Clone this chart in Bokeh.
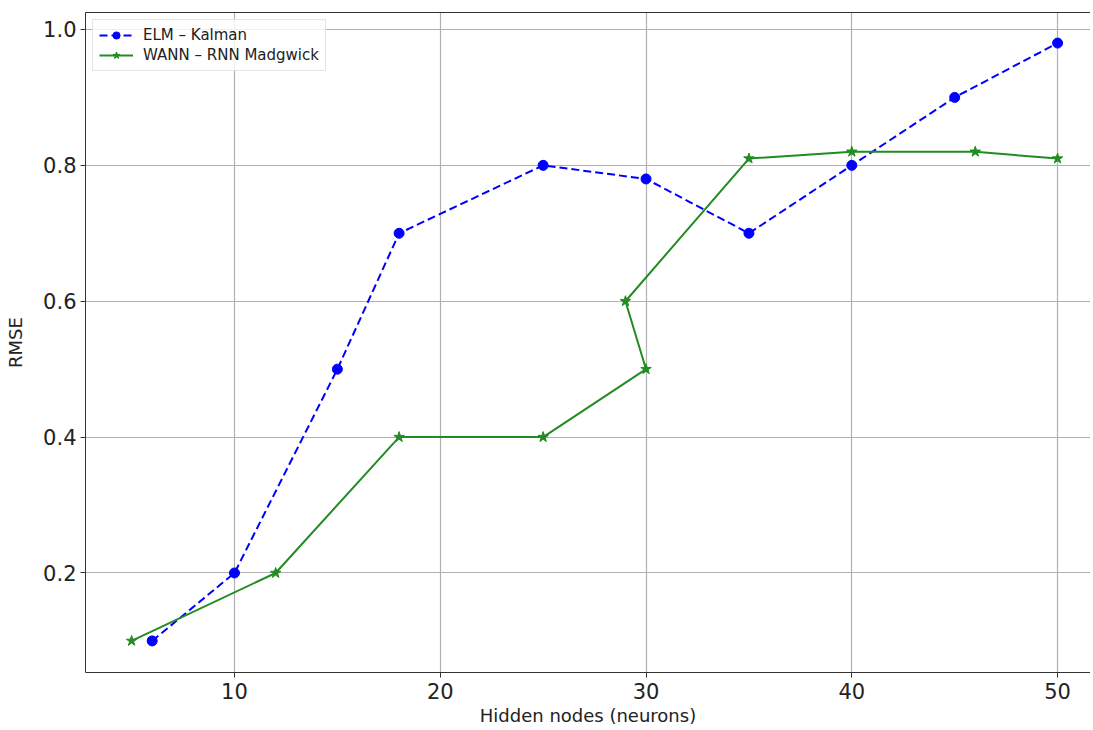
from bokeh.plotting import figure
from bokeh.models import (Range1d, FixedTicker, PrintfTickFormatter, Legend, LegendItem,
                          LinearAxis)
from bokeh.embed import file_html
from bokeh.resources import INLINE

# data
elm_x = [6, 10, 15, 18, 25, 30, 35, 40, 45, 50]
elm_y = [0.10, 0.20, 0.50, 0.70, 0.80, 0.78, 0.70, 0.80, 0.90, 0.98]
wann_x = [5, 12, 18, 25, 30, 29, 35, 40, 46, 50]
wann_y = [0.10, 0.20, 0.40, 0.40, 0.50, 0.60, 0.81, 0.82, 0.82, 0.81]
x_ticks = [10, 20, 30, 40, 50]
y_ticks = [0.2, 0.4, 0.6, 0.8, 1.0]

FONT = "DejaVu Sans"

p = figure(width=1090, height=728, output_backend="svg", toolbar_location=None,
           x_range=Range1d(2.76, 51.6), y_range=Range1d(0.0535, 1.025),
           min_border_left=85, min_border_right=0, min_border_top=12, min_border_bottom=53)
p.outline_line_color = None
p.background_fill_color = "white"
p.border_fill_color = "white"

for ax in (p.xaxis[0], p.yaxis[0]):
    ax.major_label_text_font = FONT
    ax.major_label_text_font_size = "21px"
    ax.major_label_text_color = "#222222"
    ax.axis_label_text_font = FONT
    ax.axis_label_text_font_size = "18px"
    ax.axis_label_text_font_style = "normal"
    ax.axis_label_text_color = "#222222"
    ax.major_tick_in = 0
    ax.major_tick_out = 5
    ax.minor_tick_line_color = None
    ax.axis_line_color = "#333333"
    ax.major_tick_line_color = "#333333"

p.xaxis.ticker = FixedTicker(ticks=x_ticks)
p.yaxis.ticker = FixedTicker(ticks=y_ticks)
p.yaxis.formatter = PrintfTickFormatter(format="%.1f")
p.xaxis.axis_label = "Hidden nodes (neurons)"
p.yaxis.axis_label = "RMSE"
p.xaxis.major_label_standoff = 5
p.xaxis.axis_label_standoff = 3
p.yaxis.major_label_standoff = 4
p.yaxis.axis_label_standoff = 14

top = LinearAxis(ticker=FixedTicker(ticks=[]), major_label_text_font_size="0px",
                 axis_line_color="#333333", major_tick_line_color=None,
                 minor_tick_line_color=None, major_tick_out=0, major_label_standoff=0)
p.add_layout(top, "above")

p.xgrid.ticker = FixedTicker(ticks=x_ticks)
p.ygrid.ticker = FixedTicker(ticks=y_ticks)
p.grid.grid_line_color = "#b0b0b0"
p.grid.grid_line_width = 1.2

l1 = p.line(elm_x, elm_y, line_color="blue", line_width=2, line_dash="8 4")
s1 = p.scatter(elm_x, elm_y, marker="circle", size=10, fill_color="blue", line_color="blue")
l2 = p.line(wann_x, wann_y, line_color="forestgreen", line_width=2)
s2 = p.scatter(wann_x, wann_y, marker="star", size=11, fill_color="forestgreen",
               line_color="forestgreen")

legend = Legend(items=[LegendItem(label="ELM \u2013 Kalman", renderers=[l1, s1]),
                       LegendItem(label="WANN \u2013 RNN Madgwick", renderers=[l2, s2])],
                location="top_left")
legend.margin = 7
legend.padding = 6
legend.spacing = 2
legend.glyph_width = 34
legend.glyph_height = 18
legend.label_text_font = FONT
legend.label_text_font_size = "15px"
legend.label_text_color = "#222222"
legend.label_standoff = 10
legend.border_line_color = "#cccccc"
legend.border_line_width = 1
legend.background_fill_alpha = 0.8
p.add_layout(legend)

open("out.html", "w").write(file_html(p, INLINE))
